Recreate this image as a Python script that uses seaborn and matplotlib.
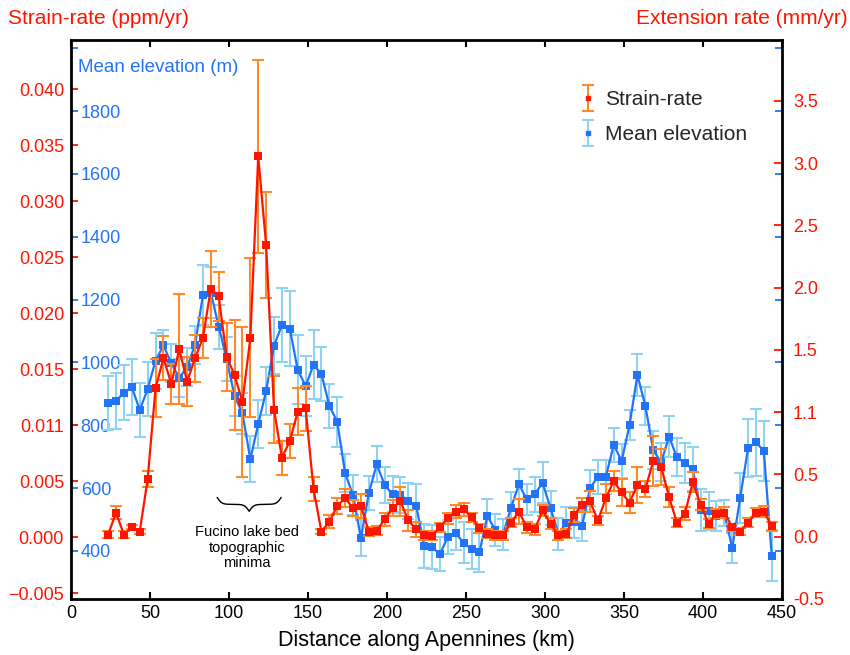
import numpy as np
import pandas as pd
import matplotlib
matplotlib.use("Agg")
import matplotlib.pyplot as plt
from matplotlib.container import ErrorbarContainer
from matplotlib.legend_handler import HandlerErrorbar
import seaborn as sns

# ---- style ----
sns.set_theme(style="white")
plt.rcParams["font.family"] = ["Liberation Sans", "DejaVu Sans"]

RED = "#ff1400"
ORANGE = "#ff8a2a"
BLUE = "#2273f5"
LIGHT_BLUE = "#8fd2f2"

# ---- data ----
# sample points every 5 km, first one at ~23.5 km
distance_km = list(np.arange(23.5, 444, 5))

strain_rate = [
    0.00024, 0.0022, 0.00024, 0.0009, 0.0005, 0.0052, 0.0133, 0.0160, 0.0137, 0.0168,
    0.0139, 0.0160, 0.0178, 0.0222, 0.0215, 0.0161, 0.0145, 0.0121, 0.0178, 0.0340,
    0.0261, 0.0114, 0.0071, 0.0086, 0.0112, 0.0115, 0.0043, 0.0005, 0.0014, 0.0028,
    0.0035, 0.0026, 0.0028, 0.0005, 0.0006, 0.0016, 0.0026, 0.0032, 0.0015, 0.0007,
    0.0002, 0.00015, 0.0009, 0.0017, 0.0023, 0.0025, 0.0018, 0.0008, 0.0003, 0.0002,
    0.0002, 0.0013, 0.0023, 0.0009, 0.0007, 0.0024, 0.0012, 0.0002, 0.0003, 0.0020,
    0.0029, 0.0032, 0.0015, 0.0035, 0.0050, 0.0040, 0.0031, 0.0047, 0.0043, 0.0068,
    0.0063, 0.0036, 0.0013, 0.0021, 0.0049, 0.0029, 0.0012, 0.0021, 0.0022, 0.0009,
    0.0005, 0.0013, 0.0022, 0.0023, 0.0010,
]
strain_err = [
    0.0003, 0.0006, 0.0003, 0.0002, 0.0002, 0.0007, 0.0026, 0.0020, 0.0018, 0.0049,
    0.0022, 0.0021, 0.0018, 0.0034, 0.0022, 0.0030, 0.0049, 0.0067, 0.0071, 0.0086,
    0.0047, 0.0030, 0.0015, 0.0015, 0.0021, 0.0020, 0.0011, 0.0002, 0.0006, 0.0007,
    0.0008, 0.0007, 0.0011, 0.0004, 0.0004, 0.0006, 0.0007, 0.0013, 0.0009, 0.0007,
    0.0004, 0.0004, 0.0004, 0.0005, 0.0006, 0.0006, 0.0004, 0.0004, 0.0004, 0.0004,
    0.0004, 0.0004, 0.0011, 0.0005, 0.0005, 0.0005, 0.0005, 0.0004, 0.0004, 0.0006,
    0.0006, 0.0009, 0.0004, 0.0013, 0.0009, 0.0012, 0.0009, 0.0016, 0.0007, 0.0022,
    0.0016, 0.0009, 0.0004, 0.0006, 0.0009, 0.0005, 0.0004, 0.0004, 0.0005, 0.0003,
    0.0003, 0.0004, 0.0004, 0.0005, 0.0004,
]

elevation = [
    872, 877, 904, 922, 848, 915, 1005, 1054, 997, 951,
    985, 1056, 1214, 1222, 1114, 1010, 893, 838, 692, 804,
    909, 1053, 1119, 1107, 976, 925, 992, 963, 862, 811,
    647, 578, 440, 584, 676, 610, 580, 578, 560, 543,
    416, 412, 390, 444, 456, 426, 406, 395, 511, 467,
    453, 538, 612, 564, 580, 617, 536, 454, 490, 491,
    480, 600, 636, 636, 738, 686, 801, 960, 862, 721,
    682, 764, 698, 679, 660, 530, 528, 511, 520, 409,
    568, 727, 746, 718, 385,
]
elevation_err = [
    86, 88, 88, 88, 85, 85, 90, 50, 60, 60,
    60, 60, 95, 80, 70, 70, 65, 65, 73, 76,
    76, 90, 118, 120, 110, 95, 110, 85, 70, 80,
    60, 63, 57, 55, 57, 57, 57, 57, 57, 70,
    70, 70, 54, 54, 54, 66, 63, 63, 55, 50,
    50, 50, 48, 50, 55, 66, 55, 50, 50, 50,
    50, 57, 54, 54, 54, 55, 48, 67, 60, 60,
    60, 64, 60, 64, 70, 67, 60, 48, 41, 47,
    80, 93, 106, 97, 80,
]

dist_ticks = list(range(0, 451, 50))
strain_ticks = [-0.005, 0.0, 0.005, 0.010, 0.015, 0.020, 0.025, 0.030, 0.035, 0.040]
strain_ticklabels = ["\u22120.005", "0.000", "0.005", "0.011", "0.015",
                     "0.020", "0.025", "0.030", "0.035", "0.040"]
ext_ticks = [-0.5, 0.0, 0.5, 1.0, 1.5, 2.0, 2.5, 3.0, 3.5]
ext_ticklabels = ["-0.5", "0.0", "0.5", "1.1", "1.5", "2.0", "2.5", "3.0", "3.5"]
elev_ticks = [400, 600, 800, 1000, 1200, 1400, 1600, 1800, 2000]
elev_ticklabels = ["400", "600", "800", "1000", "1200", "1400", "1600", "1800", ""]

df = pd.DataFrame({
    "distance": distance_km,
    "strain": strain_rate,
    "strain_err": strain_err,
    "elevation": elevation,
    "elevation_err": elevation_err,
})

# ---- figure ----
fig = plt.figure(figsize=(8.5, 6.55), dpi=100)
ax = fig.add_axes([71 / 850, 56 / 655, 711 / 850, 559 / 655])
ax_e = ax.twinx()   # mean elevation (blue, labels inside)
ax_r = ax.twinx()   # extension rate (right, red)

ax.set_zorder(3)
ax_r.set_zorder(2)
ax_e.set_zorder(1)
ax.patch.set_visible(False)
ax_r.patch.set_visible(False)

# elevation series: error bars (small markers kept for the legend), then the seaborn line
eb_blue = ax_e.errorbar(df["distance"], df["elevation"], yerr=df["elevation_err"],
                        fmt="s", color=BLUE, markersize=3,
                        ecolor=LIGHT_BLUE, elinewidth=1.5, capsize=4, capthick=1.5)
sns.lineplot(data=df, x="distance", y="elevation", ax=ax_e, color=BLUE,
             marker="s", markersize=5.5, markeredgewidth=0, linewidth=1.6,
             sort=False, errorbar=None)

# strain-rate series
eb_red = ax.errorbar(df["distance"], df["strain"], yerr=df["strain_err"],
                     fmt="s", color=RED, markersize=3,
                     ecolor=ORANGE, elinewidth=1.5, capsize=4, capthick=1.5)
sns.lineplot(data=df, x="distance", y="strain", ax=ax, color=RED,
             marker="s", markersize=5.5, markeredgewidth=0, linewidth=1.6,
             sort=False, errorbar=None)

# ---- axes limits & ticks ----
ax.set_xlim(0, 450)
ax.set_ylim(-0.00551, 0.0444)
ax_r.set_ylim(-0.502, 3.989)
ax_e.set_ylim(247, 2026)

ax.set_xticks(dist_ticks)
ax.set_xticklabels([str(t) for t in dist_ticks])
ax.tick_params(axis="x", direction="in", top=True, bottom=True, length=5, width=1.5,
               colors="black", labelsize=13, pad=4)

ax.set_yticks(strain_ticks)
ax.set_yticklabels(strain_ticklabels)
ax.tick_params(axis="y", direction="in", left=True, right=False, length=5, width=1.3,
               colors=RED, labelsize=13, pad=5)

ax_r.set_yticks(ext_ticks)
ax_r.set_yticklabels(ext_ticklabels)
ax_r.tick_params(axis="y", direction="in", right=True, left=False, length=6, width=1.3,
                 colors=RED, labelsize=13, pad=8)

ax_e.set_yticks(elev_ticks)
ax_e.set_yticklabels(elev_ticklabels)
ax_e.tick_params(axis="y", direction="in", left=True, right=True, labelleft=True,
                 labelright=False, length=5, width=1.3, colors=BLUE, labelsize=13, pad=-7)
plt.setp(ax_e.get_yticklabels(), ha="left")

for a in (ax_e, ax_r):
    a.tick_params(axis="x", which="both", bottom=False, top=False, labelbottom=False)
    a.set_ylabel("")
    for s in a.spines.values():
        s.set_visible(False)

for s in ax.spines.values():
    s.set_color("black")
    s.set_linewidth(2)

ax.set_ylabel("")
ax.set_xlabel("Distance along Apennines (km)", fontsize=15.5, color="black", labelpad=6)
ax.grid(False)
ax_e.grid(False)
ax_r.grid(False)

# ---- titles for the axes ----
fig.text(8 / 850, 1 - 18 / 655, "Strain-rate (ppm/yr)", color=RED, fontsize=15,
         ha="left", va="center")
fig.text(848 / 850, 1 - 18 / 655, "Extension rate (mm/yr)", color=RED, fontsize=15,
         ha="right", va="center")
ax.text(0.01, 0.95, "Mean elevation (m)", transform=ax.transAxes, color=BLUE,
        fontsize=13.5, ha="left", va="center")

# ---- Fucino brace annotation ----
bx = np.linspace(92.5, 133, 201)
half = bx[:101]
beta = 0.7
yh = 1 / (1 + np.exp(-beta * (half - half[0]))) + 1 / (1 + np.exp(-beta * (half - half[-1])))
yb = np.concatenate((yh, yh[-2::-1]))
top, tip = 0.00356, 0.00232
ax.plot(bx, top - (yb - 0.5) * (top - tip), color="black", lw=1)
ax.text(111.5, 0.0011, "Fucino lake bed\ntopographic\nminima", ha="center", va="top",
        fontsize=10.5, linespacing=1.15, color="black")

# ---- legend ----
ax.legend([eb_red, eb_blue], ["Strain-rate", "Mean elevation"],
          handler_map={ErrorbarContainer: HandlerErrorbar(yerr_size=0.62)},
          loc="upper left", bbox_to_anchor=(0.689, 0.9435), frameon=False, fontsize=15,
          handlelength=0.8, handletextpad=0.4, labelspacing=0.75)

fig.savefig("out.png", dpi=100)
